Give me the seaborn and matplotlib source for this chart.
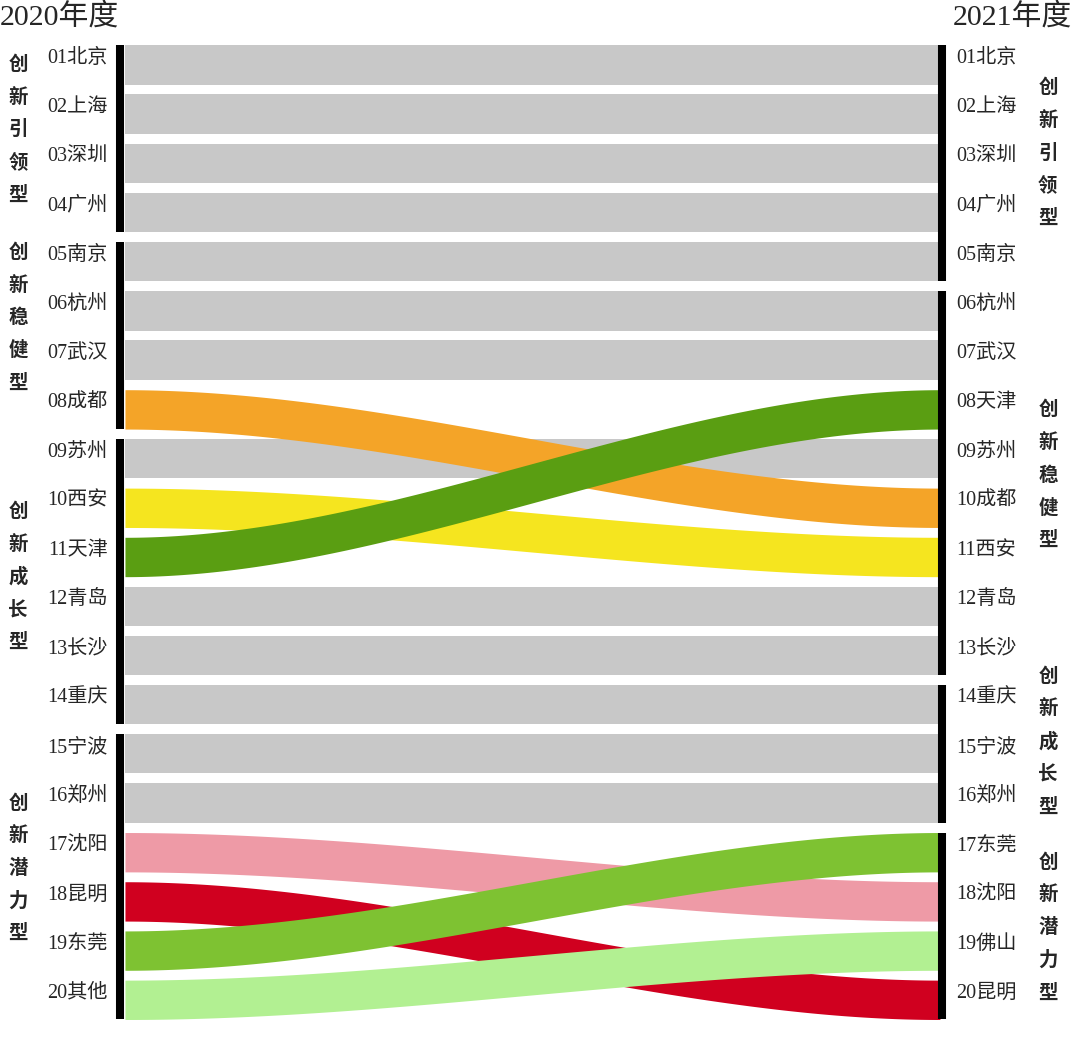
"""Slope/flow chart of city innovation rankings, 2020 vs 2021."""

import matplotlib.pyplot as plt
import numpy as np
import seaborn as sns

# 2020 ranking (left side), 2021 ranking (right side)
LEFT_NAMES = ["北京", "上海", "深圳", "广州", "南京", "杭州", "武汉", "成都",
              "苏州", "西安", "天津", "青岛", "长沙", "重庆", "宁波", "郑州",
              "沈阳", "昆明", "东莞", "其他"]
RIGHT_NAMES = ["北京", "上海", "深圳", "广州", "南京", "杭州", "武汉", "天津",
               "苏州", "成都", "西安", "青岛", "长沙", "重庆", "宁波", "郑州",
               "东莞", "沈阳", "佛山", "昆明"]
# 2021 rank reached by each 2020 rank
RANK_2021 = [1, 2, 3, 4, 5, 6, 7, 10, 9, 11, 8, 12, 13, 14, 15, 16,
             18, 20, 17, 19]
GREY = "#c8c8c8"
BAND_COLORS = [GREY] * 7 + ["#f4a428", GREY, "#f5e51f", "#5a9e12"] + \
    [GREY] * 5 + ["#ee9aa6", "#d0001f", "#7ec232", "#b2f092"]

LEFT_GROUPS = [("创新引领型", 1, 4), ("创新稳健型", 5, 8),
               ("创新成长型", 9, 14), ("创新潜力型", 15, 20)]
RIGHT_GROUPS = [("创新引领型", 1, 5), ("创新稳健型", 6, 13),
                ("创新成长型", 14, 16), ("创新潜力型", 17, 20)]
# where the vertical group captions sit (in rank units)
LEFT_CAPTION_POS = [2.32, 6.14, 11.41, 17.33]
RIGHT_CAPTION_POS = [2.79, 9.34, 14.75, 18.53]

HALF = 0.4  # half band thickness in rank units


def _band(ax, r0, r1, color, z):
    x = np.linspace(0, 1, 300)
    s = x * x * (3 - 2 * x)
    y = r0 + (r1 - r0) * s
    ax.fill_between(x, y - HALF, y + HALF, color=color, lw=0, zorder=z)


def _main() -> None:
    sns.set_theme(style="white")
    plt.rcParams["font.family"] = ["Noto Sans CJK SC", "DejaVu Sans"]
    serif = ["Liberation Serif", "Noto Sans CJK SC"]

    fig = plt.figure(figsize=(10.8, 10.51), dpi=100)
    ax = fig.add_axes([0.1157, 0.0253, 0.7546, 0.9363])
    ax.set_xlim(0, 1)
    ax.set_ylim(20.5, 0.5)
    ax.axis("off")

    ranks = np.arange(1, 21)
    # grey first, falling bands next, rising bands on top
    for r0, r1, c in zip(ranks, RANK_2021, BAND_COLORS):
        z = 1 if r0 == r1 else (2 if r1 > r0 else 3)
        _band(ax, r0, r1, c, z)

    # group bars
    for groups, xb in ((LEFT_GROUPS, -0.0061), (RIGHT_GROUPS, 1.0025)):
        for _, a, b in groups:
            ax.plot([xb, xb], [a - HALF, b + HALF], color="black", lw=5.8,
                    solid_capstyle="butt", clip_on=False, zorder=5)

    # city labels
    for i, (ln, rn) in enumerate(zip(LEFT_NAMES, RIGHT_NAMES)):
        r = i + 1
        ax.text(-0.021, r - 0.13, f"{r:02d}{ln}", ha="right", va="center",
                fontsize=14.5, family=serif, clip_on=False)
        ax.text(1.0196, r - 0.13, f"{r:02d}{rn}", ha="left", va="center",
                fontsize=14.5, family=serif, clip_on=False)

    # vertical group captions
    for groups, pos, xc in ((LEFT_GROUPS, LEFT_CAPTION_POS, -0.1313),
                            (RIGHT_GROUPS, RIGHT_CAPTION_POS, 1.1325)):
        for (name, _, _), mid in zip(groups, pos):
            n = len(name)
            for k, ch in enumerate(name):
                yy = mid + (k - (n - 1) / 2) * 0.665
                ax.text(xc, yy, ch, ha="center", va="center", fontsize=14,
                        fontweight="bold", clip_on=False)

    fig.text(0.0, 0.984, "2020年度", ha="left", va="center", fontsize=21.5,
             family=serif)
    fig.text(0.993, 0.984, "2021年度", ha="right", va="center", fontsize=21.5,
             family=serif)

    fig.savefig("out.png", dpi=100, facecolor="white")


if __name__ == "__main__":
    _main()
